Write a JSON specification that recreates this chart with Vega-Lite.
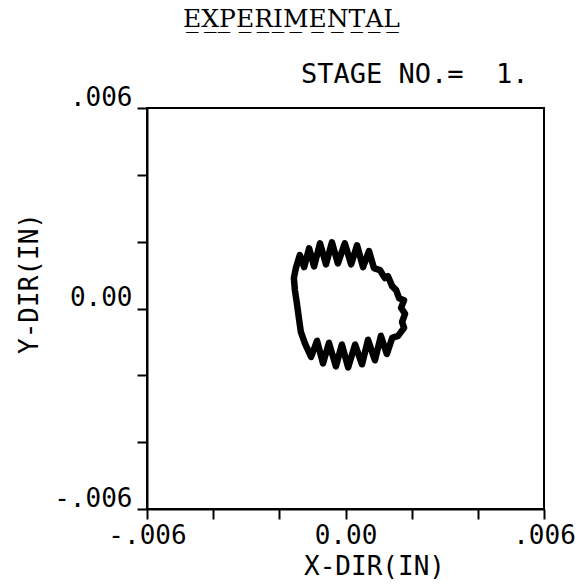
{
  "$schema": "https://vega.github.io/schema/vega-lite/v6.json",
  "width": 397,
  "height": 401,
  "autosize": {"type": "none"},
  "padding": {"left": 147, "top": 108, "right": 34, "bottom": 75},
  "background": "white",
  "title": {
    "text": "E̲X̲P̲E̲R̲I̲M̲E̲N̲T̲A̲L̲",
    "font": "DejaVu Serif",
    "fontSize": 25,
    "fontWeight": "normal",
    "color": "black",
    "anchor": "middle",
    "dx": -54,
    "dy": 12,
    "baseline": "alphabetic",
    "offset": 20
  },
  "config": {
    "view": {"stroke": "black", "strokeWidth": 2},
    "axis": {
      "grid": false,
      "domainColor": "black",
      "domainWidth": 2,
      "tickColor": "black",
      "tickWidth": 2,
      "tickSize": 10,
      "labelColor": "black",
      "labelFont": "DejaVu Sans Mono",
      "labelFontSize": 26,
      "titleColor": "black",
      "titleFont": "DejaVu Sans Mono",
      "titleFontSize": 26,
      "titleFontWeight": "normal"
    }
  },
  "data": {
    "values": [
      {"i": 1, "x": -0.00150, "y": 0.00121},
      {"i": 2, "x": -0.00138, "y": 0.00160},
      {"i": 3, "x": -0.00125, "y": 0.00124},
      {"i": 4, "x": -0.00110, "y": 0.00180},
      {"i": 5, "x": -0.00095, "y": 0.00126},
      {"i": 6, "x": -0.00077, "y": 0.00195},
      {"i": 7, "x": -0.00059, "y": 0.00132},
      {"i": 8, "x": -0.00041, "y": 0.00198},
      {"i": 9, "x": -0.00023, "y": 0.00135},
      {"i": 10, "x": -0.00002, "y": 0.00195},
      {"i": 11, "x": 0.00017, "y": 0.00132},
      {"i": 12, "x": 0.00035, "y": 0.00189},
      {"i": 13, "x": 0.00053, "y": 0.00124},
      {"i": 14, "x": 0.00071, "y": 0.00172},
      {"i": 15, "x": 0.00086, "y": 0.00121},
      {"i": 16, "x": 0.00104, "y": 0.00115},
      {"i": 17, "x": 0.00119, "y": 0.00091},
      {"i": 18, "x": 0.00128, "y": 0.00097},
      {"i": 19, "x": 0.00141, "y": 0.00067},
      {"i": 20, "x": 0.00153, "y": 0.00055},
      {"i": 21, "x": 0.00162, "y": 0.00031},
      {"i": 22, "x": 0.00177, "y": 0.00025},
      {"i": 23, "x": 0.00168, "y": 0.00002},
      {"i": 24, "x": 0.00180, "y": -0.00016},
      {"i": 25, "x": 0.00171, "y": -0.00040},
      {"i": 26, "x": 0.00177, "y": -0.00058},
      {"i": 27, "x": 0.00159, "y": -0.00082},
      {"i": 28, "x": 0.00141, "y": -0.00088},
      {"i": 29, "x": 0.00125, "y": -0.00136},
      {"i": 30, "x": 0.00107, "y": -0.00082},
      {"i": 31, "x": 0.00089, "y": -0.00155},
      {"i": 32, "x": 0.00068, "y": -0.00094},
      {"i": 33, "x": 0.00050, "y": -0.00167},
      {"i": 34, "x": 0.00029, "y": -0.00108},
      {"i": 35, "x": 0.00008, "y": -0.00176},
      {"i": 36, "x": -0.00011, "y": -0.00108},
      {"i": 37, "x": -0.00029, "y": -0.00173},
      {"i": 38, "x": -0.00050, "y": -0.00103},
      {"i": 39, "x": -0.00068, "y": -0.00164},
      {"i": 40, "x": -0.00086, "y": -0.00097},
      {"i": 41, "x": -0.00104, "y": -0.00145},
      {"i": 42, "x": -0.00122, "y": -0.00106},
      {"i": 43, "x": -0.00135, "y": -0.00070},
      {"i": 44, "x": -0.00141, "y": -0.00028},
      {"i": 45, "x": -0.00147, "y": 0.00016},
      {"i": 46, "x": -0.00153, "y": 0.00055},
      {"i": 47, "x": -0.00156, "y": 0.00091},
      {"i": 48, "x": -0.00150, "y": 0.00121}
    ]
  },
  "layer": [
    {
      "mark": {"type": "line", "color": "black", "strokeWidth": 6.5, "strokeJoin": "round", "strokeCap": "round"},
      "encoding": {
        "x": {
          "field": "x",
          "type": "quantitative",
          "scale": {"domain": [-0.006, 0.006], "nice": false, "zero": false},
          "axis": {
            "orient": "bottom",
            "values": [-0.006, -0.004, -0.002, 0, 0.002, 0.004, 0.006],
            "labelExpr": "datum.value == 0 ? '0.00' : (abs(datum.value) > 0.0059 ? (datum.value < 0 ? '-.006' : '.006') : '')",
            "labelBaseline": "top",
            "labelPadding": 3,
            "labelFlush": false,
            "labelOverlap": false,
            "title": "X-DIR(IN)",
            "titleAlign": "center",
            "titleBaseline": "top",
            "titleX": 227,
            "titleY": 44
          }
        },
        "y": {
          "field": "y",
          "type": "quantitative",
          "scale": {"domain": [-0.006, 0.006], "nice": false, "zero": false},
          "axis": {
            "orient": "left",
            "values": [-0.006, -0.004, -0.002, 0, 0.002, 0.004, 0.006],
            "labelExpr": "datum.value == 0 ? '0.00' : (abs(datum.value) > 0.0059 ? (datum.value < 0 ? '-.006' : '.006') : '')",
            "labelAlign": "right",
            "labelBaseline": "alphabetic",
            "labelOffset": -3,
            "labelPadding": 5,
            "labelFlush": false,
            "labelOverlap": false,
            "title": "Y-DIR(IN)",
            "titleAngle": 270,
            "titleAlign": "center",
            "titleBaseline": "middle",
            "titleX": -118,
            "titleY": 175
          }
        },
        "order": {"field": "i", "type": "quantitative"}
      }
    },
    {
      "mark": {"type": "rule", "opacity": 0},
      "encoding": {
        "x": {
          "datum": 0,
          "type": "quantitative",
          "axis": {
            "orient": "top",
            "domain": false,
            "ticks": false,
            "labels": false,
            "title": "STAGE NO.=\u00a0\u00a01.",
            "titleFontSize": 27,
            "titleAlign": "right",
            "titleBaseline": "alphabetic",
            "titleAnchor": null,
            "titleX": 381,
            "titleY": -26
          }
        }
      }
    }
  ],
  "resolve": {"axis": {"x": "independent"}}
}
